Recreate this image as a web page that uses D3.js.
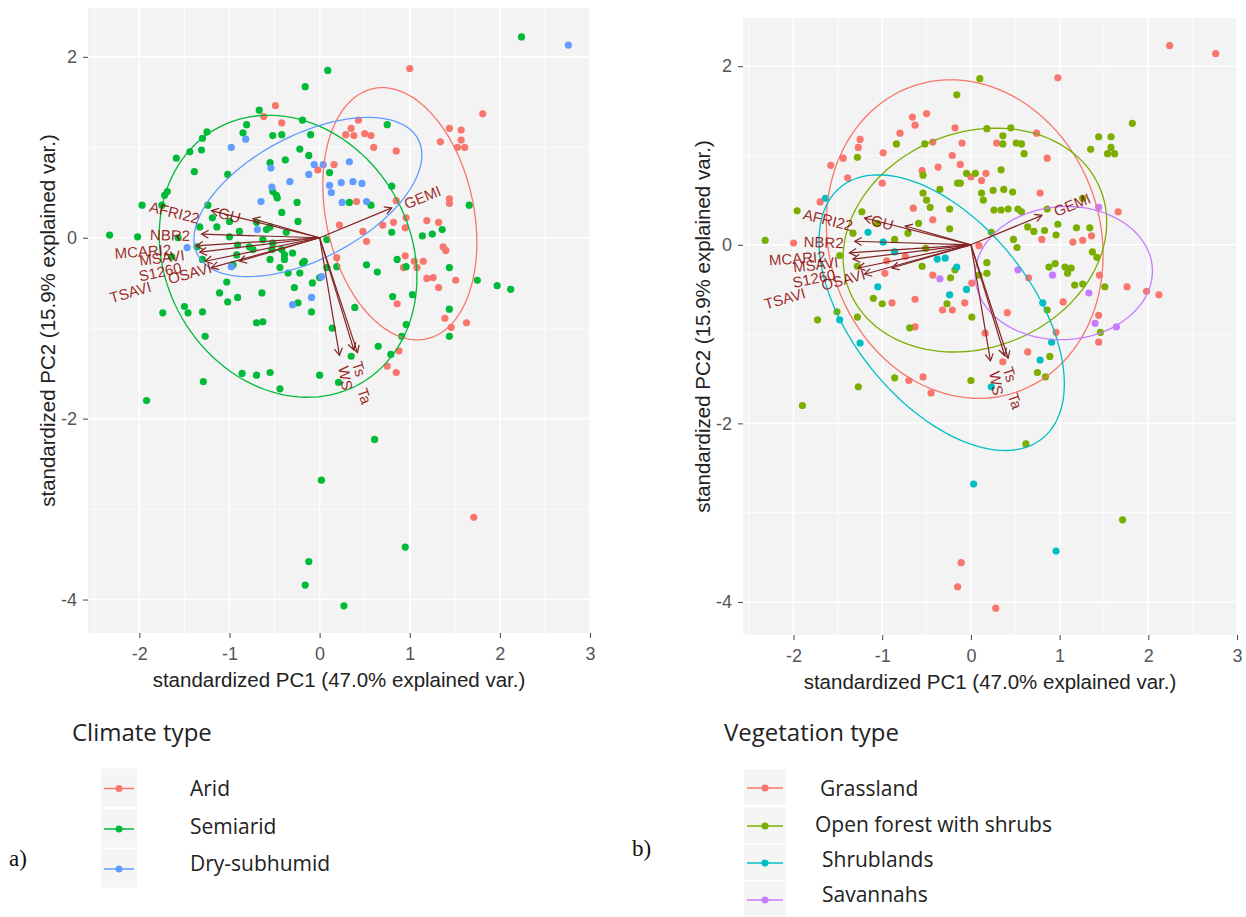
<!DOCTYPE html>
<html>
<head>
<meta charset="utf-8">
<script src="https://cdn.jsdelivr.net/npm/d3@7"></script>
<style>
  body { margin: 0; background: #fff; }
</style>
</head>
<body>
<div id="chart"></div>
<script>
// ---- data ----
var xTicks = [-2, -1, 0, 1, 2, 3];
var yTicks = [-4, -2, 0, 2];
var xMinor = [-2.5, -1.5, -0.5, 0.5, 1.5, 2.5];
var yMinor = [-3, -1, 1];
var xDomain = [-2.57, 3.0];
var yDomain = [-4.37, 2.54];

var xTitle = "standardized PC1 (47.0% explained var.)";
var yTitle = "standardized PC2 (15.9% explained var.)";

var climateTypes = ["Arid", "Semiarid", "Dry-subhumid"];
var climateColors = ["#F8766D", "#00BA38", "#619CFF"];
var vegTypes = ["Grassland", "Open forest with shrubs", "Shrublands", "Savannahs"];
var vegColors = ["#F8766D", "#7CAE00", "#00BFC4", "#C77CFF"];

// PC scores
var aridPts = [[-0.49,1.46],[-0.62,1.34],[-0.42,1.27],[-0.02,0.75],[1.00,1.87],[1.81,1.37],[0.43,1.30],[0.35,1.21],[0.29,1.14],[0.50,1.15],[0.57,1.13],[0.38,1.13],[0.60,1.00],[1.44,1.21],[1.57,1.19],[1.57,1.08],[1.34,1.06],[1.53,1.00],[1.61,1.00],[0.85,0.96],[0.16,0.81],[0.41,0.40],[0.85,0.41],[1.44,0.43],[1.44,0.38],[0.96,0.22],[0.22,0.14],[0.48,0.07],[0.52,-0.04],[0.70,0.14],[0.82,0.17],[0.95,0.11],[1.19,0.19],[1.32,0.17],[1.37,-0.10],[1.40,-0.14],[0.95,-0.20],[1.05,-0.26],[1.15,-0.26],[1.08,-0.33],[0.93,-0.33],[1.19,-0.45],[1.26,-0.44],[1.32,-0.55],[1.51,-0.47],[0.19,-0.22],[0.86,-0.73],[1.39,-0.89],[1.46,-0.99],[1.63,-0.94],[0.88,-1.25],[0.75,-1.42],[0.85,-1.49],[1.71,-3.09]];
var semiaridPts = [[-0.16,1.67],[-0.67,1.41],[-0.19,1.30],[-0.81,1.25],[-1.25,1.17],[-1.30,1.10],[-0.85,1.16],[-0.52,1.13],[-0.42,1.14],[-0.10,1.14],[-1.44,0.95],[-1.31,0.97],[-0.22,0.98],[-1.59,0.88],[-0.12,0.91],[-0.38,0.86],[-0.55,0.83],[-1.39,0.73],[-1.02,0.70],[-1.69,0.51],[-1.72,0.47],[-0.52,0.51],[-0.48,0.47],[-0.25,0.39],[-1.97,0.36],[-1.24,0.36],[-1.75,0.36],[-1.19,0.22],[-0.42,0.28],[-2.33,0.03],[-2.02,0.01],[-1.33,0.12],[-1.00,0.01],[-0.89,0.07],[-0.70,0.17],[-0.59,0.09],[-0.63,-0.02],[-0.52,-0.06],[-0.92,-0.19],[-0.74,-0.13],[-1.30,-0.24],[-0.96,-0.30],[-0.55,-0.24],[-0.39,-0.19],[-0.30,-0.17],[-0.44,-0.33],[-0.35,-0.39],[-0.17,-0.26],[-1.03,-0.49],[-1.11,-0.61],[-0.64,-0.61],[-0.28,-0.55],[-0.08,-0.50],[-0.24,-0.72],[-1.30,-0.82],[-1.46,-0.83],[-1.74,-0.83],[-1.02,-0.71],[-0.09,-0.82],[-0.70,-0.94],[-0.63,-0.93],[-1.57,0.00],[-1.64,-0.21],[-1.36,-0.10],[-1.14,0.12],[-1.00,0.18],[-0.55,0.12],[-0.37,0.06],[-0.24,0.18],[0.08,-0.02],[-0.91,-0.08],[-0.78,-0.10],[-0.53,-0.13],[-0.42,-0.13],[-0.39,-0.24],[-0.22,-0.39],[0.00,-0.44],[0.08,-0.33],[-0.91,-0.66],[-0.47,0.44],[-1.27,-1.09],[2.24,2.22],[0.09,1.85],[0.75,1.25],[0.11,0.72],[0.80,0.57],[0.33,0.39],[0.57,0.36],[1.66,0.36],[0.80,0.06],[1.14,0.02],[1.25,0.04],[1.36,0.09],[-0.19,-0.28],[0.19,-0.32],[0.52,-0.30],[0.64,-0.38],[0.86,-0.24],[0.96,-0.32],[1.44,-0.33],[1.75,-0.47],[1.97,-0.53],[2.12,-0.57],[1.03,-0.63],[0.81,-0.65],[0.39,-0.77],[1.44,-0.79],[0.96,-0.96],[0.14,-1.00],[0.91,-1.09],[1.44,-1.09],[0.65,-1.20],[0.79,-1.29],[0.35,-1.31],[0.00,-1.52],[0.21,-1.60],[0.61,-2.23],[0.02,-2.68],[0.95,-3.42],[-0.12,-3.58],[-0.16,-3.84],[0.27,-4.07],[-1.50,-0.76],[-1.29,-1.59],[-0.86,-1.50],[-0.70,-1.52],[-0.55,-1.49],[-0.44,-1.67],[-1.92,-1.80]];
var drySubhumidPts = [[-0.98,1.00],[-0.82,1.09],[-0.54,0.77],[-0.33,0.62],[-0.12,0.70],[-0.06,0.81],[-0.53,0.56],[-0.65,0.40],[-1.47,-0.11],[-0.98,-0.32],[-0.30,-0.74],[-0.09,-0.66],[-0.69,0.09],[2.76,2.13],[0.04,0.81],[0.33,0.84],[0.11,0.58],[0.13,0.50],[0.24,0.61],[0.37,0.62],[0.47,0.60],[0.25,0.39],[0.52,0.40],[0.02,-0.43]];

// PC scores
var grasslandPts = [[-0.66,1.43],[-0.63,1.34],[-0.50,1.47],[-0.80,1.25],[-0.43,1.15],[-1.25,1.18],[-1.27,1.09],[-1.44,0.97],[-0.99,1.03],[-1.58,0.89],[-1.39,0.75],[-1.00,0.69],[-0.55,0.83],[-0.37,0.87],[-0.21,1.00],[-1.70,0.48],[-0.65,0.41],[-0.43,0.28],[-2.00,0.02],[-0.95,-0.18],[-0.74,-0.13],[-0.97,-0.32],[-0.63,-0.61],[-0.89,-0.65],[-0.32,-0.73],[-0.21,-0.73],[-0.43,-0.34],[2.24,2.23],[2.76,2.14],[0.98,1.87],[-0.18,1.31],[0.74,1.25],[-0.10,1.14],[0.29,1.14],[-0.12,0.90],[0.86,0.97],[0.17,0.80],[0.00,0.76],[0.12,0.72],[0.78,0.58],[1.66,0.37],[0.80,0.06],[1.15,0.03],[1.26,0.05],[1.36,0.10],[0.09,-0.01],[0.65,-0.37],[1.45,-0.34],[1.76,-0.47],[1.98,-0.52],[2.12,-0.56],[0.01,-0.43],[1.04,-0.64],[-0.07,-0.65],[0.41,-0.76],[1.44,-0.79],[0.16,-0.99],[0.36,-1.31],[0.96,-0.98],[0.64,-1.20],[1.44,-1.09],[-0.11,-3.56],[-0.15,-3.83],[0.28,-4.07],[-0.63,-0.92],[-0.70,-1.52],[-0.54,-1.48],[-0.45,-1.66]];
var openForestPts = [[-0.16,1.68],[-0.84,1.13],[-0.52,1.13],[-1.28,0.98],[-0.54,0.78],[-0.35,0.62],[-0.54,0.58],[-0.50,0.50],[-0.46,0.42],[-0.24,0.40],[-1.96,0.38],[-1.23,0.37],[-0.59,0.24],[-0.24,0.18],[-0.15,0.69],[-2.32,0.05],[-1.33,0.13],[-0.86,0.06],[-0.71,0.13],[-0.51,-0.04],[-1.48,-0.12],[-1.28,-0.24],[-0.55,-0.24],[-0.18,-0.28],[-1.10,-0.60],[-1.00,-0.66],[-0.27,-0.66],[-1.51,-0.75],[-1.28,-0.81],[-1.73,-0.84],[-0.69,-0.93],[0.10,1.86],[1.82,1.36],[1.44,1.21],[1.58,1.21],[1.35,1.07],[1.58,1.09],[1.54,1.02],[1.62,1.02],[0.18,1.30],[0.45,1.31],[0.36,1.22],[0.36,1.13],[0.51,1.14],[0.57,1.13],[0.60,1.02],[-0.05,0.80],[0.05,0.80],[0.34,0.84],[-0.12,0.69],[0.25,0.61],[0.37,0.62],[0.47,0.59],[0.12,0.58],[0.14,0.50],[0.26,0.39],[0.34,0.39],[0.42,0.40],[0.53,0.40],[0.57,0.37],[0.86,0.40],[1.26,0.52],[0.64,0.20],[0.71,0.15],[0.83,0.16],[0.98,0.23],[0.96,0.11],[1.19,0.19],[1.34,0.19],[0.23,0.14],[0.48,0.06],[0.52,-0.03],[1.37,-0.08],[1.42,-0.14],[0.88,-0.25],[0.95,-0.21],[1.06,-0.25],[1.13,-0.26],[1.09,-0.32],[0.18,-0.20],[0.18,-0.32],[0.09,-0.34],[1.17,-0.45],[1.26,-0.44],[1.51,-0.47],[-0.23,-0.37],[0.86,-0.73],[0.01,-0.81],[1.46,-0.98],[0.89,-1.25],[0.75,-1.43],[0.84,-1.48],[0.00,-1.52],[0.62,-2.23],[1.71,-3.08],[-0.86,-1.49],[-1.27,-1.59],[-1.90,-1.80],[-1.06,0.24]];
var shrublandPts = [[-1.64,0.52],[-1.16,0.14],[-0.99,0.03],[-0.86,-0.08],[-0.38,-0.16],[-0.29,-0.15],[-1.05,-0.47],[-0.24,-0.56],[-1.48,-0.84],[-0.16,-0.25],[-0.05,-0.50],[0.81,-0.65],[0.91,-1.09],[0.78,-1.29],[0.03,-2.68],[0.96,-3.43],[0.23,-1.59],[-1.25,-1.10]];
var savannahPts = [[-0.35,-0.38],[1.44,0.42],[0.53,-0.28],[0.92,-0.34],[1.33,-0.54],[1.40,-0.88],[1.64,-0.92]];

// concentration ellipses: [centre PC1, centre PC2, semi-axis 1, semi-axis 2, angle of axis 1 (deg)]
var climateEllipses = [[0.89, 0.265, 0.82, 1.415, 12], [-0.35, -0.205, 1.36, 1.62, 30], [-0.13, 0.45, 1.38, 0.685, 27.5]];
var vegEllipses = [[-0.07, 0.064, 1.53, 1.81, 18.5], [0.045, 0.053, 1.525, 1.206, 21.5], [-0.33, -0.76, 1.81, 1.01, -51], [1.047, -0.317, 1.0, 0.745, 3]];

// variable loadings (arrow tips) and label centres
var varNames = ["AFRI22", "GU", "NBR2", "MCARI2", "MSAVI", "S1260", "OSAVI", "TSAVI", "GEMI", "Ts", "WS", "Ta"];
var varX = [-1.20, -0.74, -1.31, -1.37, -1.33, -1.27, -1.20, -0.89, 0.80, 0.38, 0.22, 0.42];
var varY = [0.30, 0.21, 0.04, -0.09, -0.16, -0.26, -0.33, -0.26, 0.33, -1.24, -1.30, -1.27];
var labX = [-1.61, -1.00, -1.66, -1.96, -1.75, -1.77, -1.44, -2.10, 1.14, 0.44, 0.29, 0.50];
var labY = [0.28, 0.25, 0.03, -0.15, -0.22, -0.375, -0.39, -0.60, 0.45, -1.45, -1.55, -1.75];

// ---- drawing ----
var W = 1246, H = 917;
var svg = d3.select("#chart").append("svg")
    .attr("width", W)
    .attr("height", H)
    .style("font-family", "'Liberation Sans', Arial, sans-serif");

function drawPanel(box, groups, colors, ellipses) {
    var x = d3.scaleLinear().domain(xDomain).range([box.left, box.right]);
    var y = d3.scaleLinear().domain(yDomain).range([box.bottom, box.top]);
    var g = svg.append("g");

    g.append("rect")
        .attr("x", box.left).attr("y", box.top)
        .attr("width", box.right - box.left).attr("height", box.bottom - box.top)
        .attr("fill", "#f3f3f3");

    // grid
    g.selectAll(".gxm").data(xMinor).enter().append("line")
        .attr("x1", d => x(d)).attr("x2", d => x(d))
        .attr("y1", box.top).attr("y2", box.bottom)
        .attr("stroke", "#fff").attr("stroke-width", 0.8);
    g.selectAll(".gym").data(yMinor).enter().append("line")
        .attr("y1", d => y(d)).attr("y2", d => y(d))
        .attr("x1", box.left).attr("x2", box.right)
        .attr("stroke", "#fff").attr("stroke-width", 0.8);
    g.selectAll(".gx").data(xTicks).enter().append("line")
        .attr("x1", d => x(d)).attr("x2", d => x(d))
        .attr("y1", box.top).attr("y2", box.bottom)
        .attr("stroke", "#fff").attr("stroke-width", 1.6);
    g.selectAll(".gy").data(yTicks).enter().append("line")
        .attr("y1", d => y(d)).attr("y2", d => y(d))
        .attr("x1", box.left).attr("x2", box.right)
        .attr("stroke", "#fff").attr("stroke-width", 1.6);

    // axes
    var ax = g.append("g")
        .attr("transform", "translate(0," + box.bottom + ")")
        .call(d3.axisBottom(x).tickValues(xTicks).tickSize(5).tickPadding(9).tickFormat(d => String(d)));
    var ay = g.append("g")
        .attr("transform", "translate(" + box.left + ",0)")
        .call(d3.axisLeft(y).tickValues(yTicks).tickSize(5).tickPadding(6).tickFormat(d => String(d)));
    [ax, ay].forEach(function(a) {
        a.select(".domain").remove();
        a.selectAll("line").attr("stroke", "#444");
        a.selectAll("text").attr("fill", "#555").style("font-size", "18px")
            .style("font-family", "'Liberation Sans', Arial, sans-serif");
    });

    g.append("text")
        .attr("x", (box.left + box.right) / 2).attr("y", box.bottom + 54)
        .attr("text-anchor", "middle")
        .style("font-size", "20.5px").attr("fill", "#222")
        .text(xTitle);
    g.append("text")
        .attr("transform", "translate(" + (box.left - 33) + "," + ((box.top + box.bottom) / 2) + ") rotate(-90)")
        .attr("text-anchor", "middle")
        .style("font-size", "20.5px").attr("fill", "#222")
        .text(yTitle);

    // points
    groups.forEach(function(pts, i) {
        g.selectAll(null).data(pts).enter().append("circle")
            .attr("cx", d => x(d[0])).attr("cy", d => y(d[1]))
            .attr("r", 3.6)
            .attr("fill", colors[i]);
    });

    // ellipses
    var line = d3.line().x(d => x(d[0])).y(d => y(d[1])).curve(d3.curveLinearClosed);
    ellipses.forEach(function(e, i) {
        var th = e[4] * Math.PI / 180;
        var pts = d3.range(120).map(function(k) {
            var t = k / 120 * 2 * Math.PI;
            return [e[0] + e[2] * Math.cos(t) * Math.cos(th) - e[3] * Math.sin(t) * Math.sin(th),
                    e[1] + e[2] * Math.cos(t) * Math.sin(th) + e[3] * Math.sin(t) * Math.cos(th)];
        });
        g.append("path").attr("d", line(pts))
            .attr("fill", "none").attr("stroke", colors[i]).attr("stroke-width", 1.3);
    });

    // loading arrows
    var x0 = x(0), y0 = y(0);
    varNames.forEach(function(name, i) {
        var tx = x(varX[i]), ty = y(varY[i]);
        var a = Math.atan2(ty - y0, tx - x0), L = 8, phi = Math.PI / 6;
        g.append("line")
            .attr("x1", x0).attr("y1", y0).attr("x2", tx).attr("y2", ty)
            .attr("stroke", "#832424").attr("stroke-width", 1.2);
        g.append("path")
            .attr("d", "M" + (tx - L * Math.cos(a - phi)) + "," + (ty - L * Math.sin(a - phi)) +
                       "L" + tx + "," + ty +
                       "L" + (tx - L * Math.cos(a + phi)) + "," + (ty - L * Math.sin(a + phi)))
            .attr("fill", "none").attr("stroke", "#832424").attr("stroke-width", 1.2);
    });
    varNames.forEach(function(name, i) {
        var ang = Math.atan(varY[i] / varX[i]) * 180 / Math.PI;
        var px = x(labX[i]), py = y(labY[i]);
        g.append("text")
            .attr("x", px).attr("y", py)
            .attr("transform", "rotate(" + (-ang) + "," + px + "," + py + ")")
            .attr("text-anchor", "middle")
            .attr("dominant-baseline", "central")
            .style("font-size", "15px")
            .attr("fill", "#8B0000").attr("fill-opacity", 0.85)
            .text(name);
    });
}

function drawLegend(opt) {
    var g = svg.append("g").style("font-family", "'Open Sans', sans-serif");
    g.append("text").attr("x", opt.titleX).attr("y", opt.titleY)
        .style("font-size", "24px").attr("fill", "#222").text(opt.title);
    opt.labels.forEach(function(lab, i) {
        var cy = opt.keyY[i];
        g.append("rect")
            .attr("x", opt.keyX).attr("y", cy - opt.keyH / 2)
            .attr("width", opt.keyW).attr("height", opt.keyH - 1.5)
            .attr("fill", "#f5f5f5");
        g.append("line")
            .attr("x1", opt.keyX + 3).attr("x2", opt.keyX + opt.keyW - 3)
            .attr("y1", cy).attr("y2", cy)
            .attr("stroke", opt.colors[i]).attr("stroke-width", 1.5);
        g.append("circle")
            .attr("cx", opt.keyX + opt.keyW / 2).attr("cy", cy).attr("r", 3.5)
            .attr("fill", opt.colors[i]);
        g.append("text")
            .attr("x", opt.labelX[i]).attr("y", opt.labelY[i])
            .attr("dominant-baseline", "central")
            .style("font-size", "21px").attr("fill", "#222")
            .text(lab);
    });
    svg.append("text").attr("x", opt.tagX).attr("y", opt.tagY)
        .style("font-family", "'Liberation Serif', 'Times New Roman', serif")
        .style("font-size", "23px").attr("fill", "#111")
        .text(opt.tag);
}

drawPanel({left: 88, right: 590, top: 8, bottom: 633},
    [aridPts, semiaridPts, drySubhumidPts], climateColors, climateEllipses);
drawPanel({left: 743, right: 1237, top: 18, bottom: 635},
    [grasslandPts, openForestPts, shrublandPts, savannahPts], vegColors, vegEllipses);

drawLegend({
    title: "Climate type", titleX: 72, titleY: 741,
    labels: climateTypes, colors: climateColors,
    keyX: 101, keyW: 36, keyH: 40, keyY: [788.5, 829, 869],
    labelX: [190, 190, 190], labelY: [788, 826, 863],
    tag: "a)", tagX: 9, tagY: 866
});
drawLegend({
    title: "Vegetation type", titleX: 724, titleY: 741,
    labels: vegTypes, colors: vegColors,
    keyX: 744, keyW: 42, keyH: 37, keyY: [788, 826, 863, 900],
    labelX: [820, 815, 822, 822], labelY: [788, 824, 859, 894],
    tag: "b)", tagX: 632, tagY: 856
});
</script>
</body>
</html>
